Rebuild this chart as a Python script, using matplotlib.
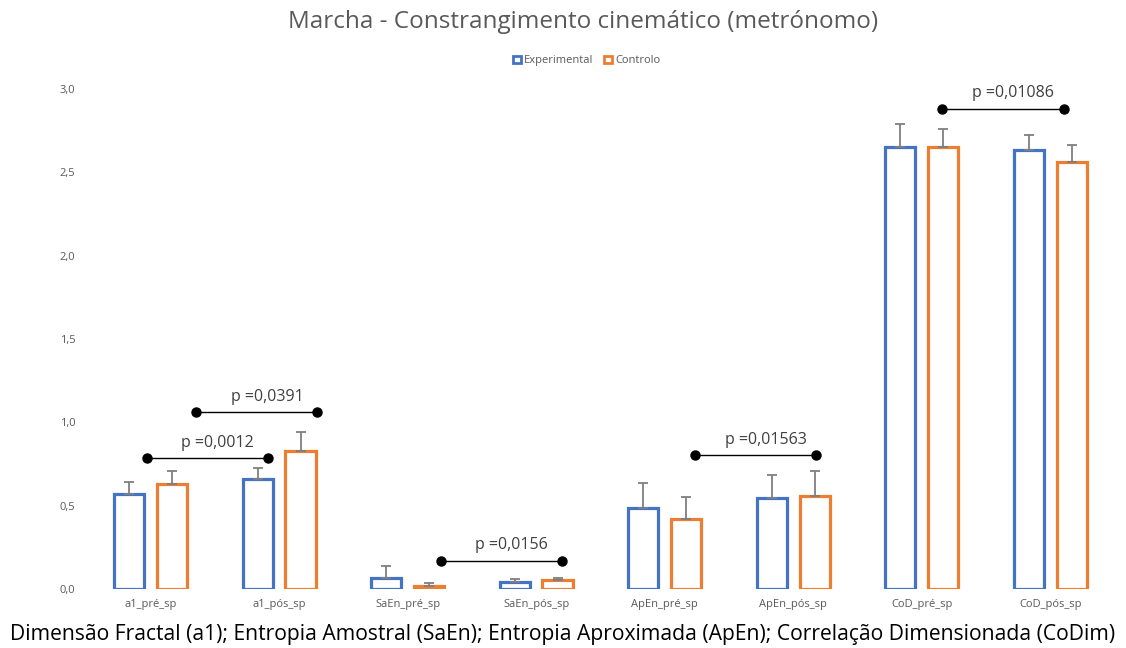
import numpy as np
import matplotlib.pyplot as plt
from matplotlib.patches import Patch
from matplotlib.ticker import FuncFormatter

plt.rcParams['font.family'] = ['Open Sans', 'DejaVu Sans']

categories = ['a1_pré_sp', 'a1_pós_sp', 'SaEn_pré_sp', 'SaEn_pós_sp',
              'ApEn_pré_sp', 'ApEn_pós_sp', 'CoD_pré_sp', 'CoD_pós_sp']
experimental = [0.57, 0.66, 0.064, 0.042, 0.488, 0.548, 2.652, 2.634]
experimental_err = [0.07, 0.064, 0.076, 0.02, 0.146, 0.138, 0.138, 0.088]
controlo = [0.63, 0.83, 0.02, 0.054, 0.418, 0.556, 2.652, 2.562]
controlo_err = [0.08, 0.11, 0.014, 0.01, 0.132, 0.152, 0.106, 0.102]

# significance brackets: (start, end) in category units, height, label
brackets = [
    (-0.03, 0.91, 0.784, 'p =0,0012'),
    (0.355, 1.296, 1.06, 'p =0,0391'),
    (2.257, 3.204, 0.17, 'p =0,0156'),
    (4.24, 5.18, 0.804, 'p =0,01563'),
    (6.158, 7.104, 2.882, 'p =0,01086'),
]

blue = '#4472C4'
orange = '#ED7D31'
grey = '#595959'

fig = plt.figure(figsize=(11.26, 6.48), dpi=100)
ax = fig.add_axes([0.0767, 0.091, 0.913, 0.7716])

x = np.arange(len(categories))
w = 0.235
off = 0.167

ax.bar(x - off, experimental, w, facecolor='white', edgecolor=blue, linewidth=2.3)
ax.bar(x + off, controlo, w, facecolor='white', edgecolor=orange, linewidth=2.3)

zeros = np.zeros(len(categories))
ax.errorbar(x - off, experimental, yerr=[zeros, experimental_err], fmt='none',
            ecolor='#7f7f7f', elinewidth=1.3, capsize=3.5, capthick=1.3)
ax.errorbar(x + off, controlo, yerr=[zeros, controlo_err], fmt='none',
            ecolor='#7f7f7f', elinewidth=1.3, capsize=3.5, capthick=1.3)

for x0, x1, y, label in brackets:
    ax.plot([x0, x1], [y, y], color='black', linewidth=1.0, marker='o',
            markersize=6.5, zorder=5)
    ax.text((x0 + x1) / 2 + 0.08, y + 0.045, label, ha='center', va='bottom',
            fontsize=11.5, color='#404040')

ax.set_xlim(-0.5, len(categories) - 0.5)
ax.set_ylim(0, 3.0)
ax.set_yticks(np.arange(0, 3.01, 0.5))
ax.yaxis.set_major_formatter(FuncFormatter(lambda v, p: f'{v:.1f}'.replace('.', ',')))
ax.set_xticks(x)
ax.set_xticklabels(categories)
ax.tick_params(axis='both', length=0, labelsize=8, labelcolor=grey)
ax.tick_params(axis='y', pad=8)
ax.tick_params(axis='x', pad=7)
for s in ax.spines.values():
    s.set_visible(False)

fig.text(0.518, 0.966, 'Marcha - Constrangimento cinemático (metrónomo)',
         ha='center', va='center', fontsize=17.5, color=grey)

handles = [Patch(facecolor='white', edgecolor=blue, linewidth=2, label='Experimental'),
           Patch(facecolor='white', edgecolor=orange, linewidth=2, label='Controlo')]
fig.legend(handles=handles, loc='center', bbox_to_anchor=(0.521, 0.906), ncol=2,
           frameon=False, fontsize=8, handlelength=0.7, handleheight=0.7,
           handletextpad=0.3, columnspacing=1.0, labelcolor=grey)

fig.text(0.5, 0.021, 'Dimensão Fractal (a1); Entropia Amostral (SaEn); Entropia Aproximada (ApEn); '
         'Correlação Dimensionada (CoDim)', ha='center', va='center', fontsize=15.2, color='black')

fig.savefig('out.png', dpi=100)
